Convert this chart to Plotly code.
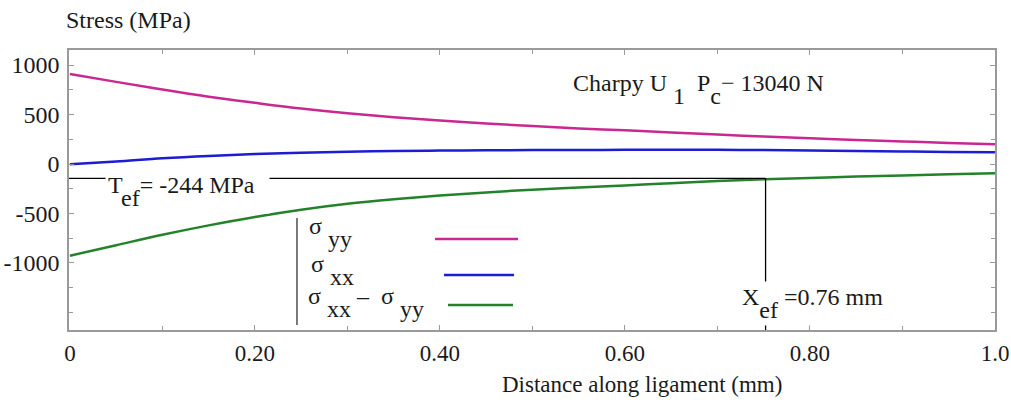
import plotly.graph_objects as go

# ---- data ----
distance_mm = [0.0, 0.05, 0.10, 0.15, 0.20, 0.25, 0.30, 0.35, 0.40, 0.45, 0.50,
               0.55, 0.60, 0.65, 0.70, 0.75, 0.80, 0.85, 0.90, 0.95, 1.0]
sigma_yy = [909, 830, 752, 680, 618, 560, 512, 473, 440, 410, 383,
            360, 340, 318, 297, 278, 260, 243, 228, 213, 199]
sigma_xx = [-3, 25, 58, 82, 100, 114, 125, 132, 136, 139, 141,
            142, 143, 144, 144, 141, 137, 132, 127, 122, 118]
sigma_diff = [-926, -820, -715, -620, -535, -462, -402, -356, -318, -287, -260,
              -238, -216, -194, -172, -155, -140, -127, -115, -104, -94]

x_tick_vals = [0, 0.2, 0.4, 0.6, 0.8, 1.0]
x_tick_text = ["0", "0.20", "0.40", "0.60", "0.80", "1.0"]
y_tick_vals = [-1000, -500, 0, 500, 1000]
y_tick_text = ["-1000", "-500", "0", "500", "1000"]

t_ef_level = -145      # where the T_ef line is drawn
x_ef = 0.752           # where the X_ef line is drawn

FONT = "Liberation Serif"
TXT = "#1a1a1a"
C_YY = "#c8288f"
C_XX = "#1c1cd2"
C_DF = "#23822a"

x_range = [-0.001, 1.0]
y_range = [-1677, 1152]

fig = go.Figure()
for name, ys, col in [("σyy", sigma_yy, C_YY), ("σxx", sigma_xx, C_XX), ("σxx-σyy", sigma_diff, C_DF)]:
    fig.add_trace(go.Scatter(x=distance_mm, y=ys, mode="lines", name=name,
                             line=dict(color=col, width=2.5, shape="spline"),
                             showlegend=False, hoverinfo="skip"))

axis_common = dict(showgrid=False, zeroline=False, showline=True, linecolor="#9a9a9a",
                   linewidth=1.5, mirror="ticks", ticks="inside", ticklen=5,
                   tickcolor="#9a9a9a", tickwidth=1, automargin=False)

fig.update_xaxes(range=x_range, tickmode="array", tickvals=x_tick_vals, ticktext=x_tick_text,
                 minor=dict(dtick=0.1, tick0=0, ticks="inside", ticklen=4, tickcolor="#9a9a9a"),
                 ticklabelstandoff=2, tickfont=dict(family=FONT, size=23, color=TXT), **axis_common)
fig.update_yaxes(range=y_range, tickmode="array", tickvals=y_tick_vals, ticktext=y_tick_text,
                 minor=dict(dtick=250, tick0=0, ticks="inside", ticklen=4, tickcolor="#9a9a9a"),
                 ticklabelstandoff=3, tickfont=dict(family=FONT, size=24, color=TXT), **axis_common)

# reference lines (T_ef horizontal, X_ef vertical)
fig.add_shape(type="line", xref="x", yref="y", x0=x_range[0], x1=x_ef, y0=t_ef_level, y1=t_ef_level,
              line=dict(color="black", width=1.3))
fig.add_shape(type="line", xref="x", yref="y", x0=x_ef, x1=x_ef, y0=t_ef_level, y1=y_range[0],
              line=dict(color="black", width=1.3))

SUB = "<span style='baseline-shift:-13px'>{}</span>"
NB = "\u00a0"

def ann(text, x, y, xanchor="left", yanchor="top", bg=None, size=24):
    fig.add_annotation(text=text, x=x, y=y, xref="paper", yref="paper", xanchor=xanchor, yanchor=yanchor,
                       showarrow=False, font=dict(family=FONT, size=size, color=TXT),
                       bgcolor=bg, borderpad=2)

ann("Stress (MPa)", -0.0065, 1.107, yanchor="middle")
ann("Distance along ligament (mm)", 0.6188, -0.196, xanchor="center", yanchor="middle", size=23)
ann("Charpy U" + SUB.format(NB + "1") + NB * 2 + "P" + SUB.format("c") + "\u2212 13040 N", 0.5410, 0.94)
ann("T" + SUB.format("ef") + "= -244 MPa" + NB * 2, 0.0389, 0.575, bg="white")
ann("X" + SUB.format("ef") + NB + "=0.76 mm", 0.7235, 0.175, bg="white")

# manual legend
ann("σ" + SUB.format(NB + "yy"), 0.2559, 0.428)
ann("σ" + SUB.format(NB + "xx"), 0.2581, 0.292)
ann("σ" + SUB.format(NB + "xx") + NB + "\u2013" + NB * 2 + "σ" + SUB.format(NB + "yy"), 0.2549, 0.178)
fig.add_shape(type="line", xref="paper", yref="paper", x0=0.2462, x1=0.2462, y0=0.018, y1=0.4,
              line=dict(color="#333333", width=1.3))
for col, x0, x1, y in [(C_YY, 0.3952, 0.4849, 0.325), (C_XX, 0.4050, 0.4806, 0.196), (C_DF, 0.4093, 0.4795, 0.089)]:
    fig.add_shape(type="line", xref="paper", yref="paper", x0=x0, x1=x1, y0=y, y1=y,
                  line=dict(color=col, width=2.5))

fig.update_layout(width=1011, height=406, margin=dict(l=69, r=16, t=50, b=76, autoexpand=False),
                  paper_bgcolor="white", plot_bgcolor="white", showlegend=False,
                  font=dict(family=FONT, size=22, color=TXT))

fig.write_html("out.html")
